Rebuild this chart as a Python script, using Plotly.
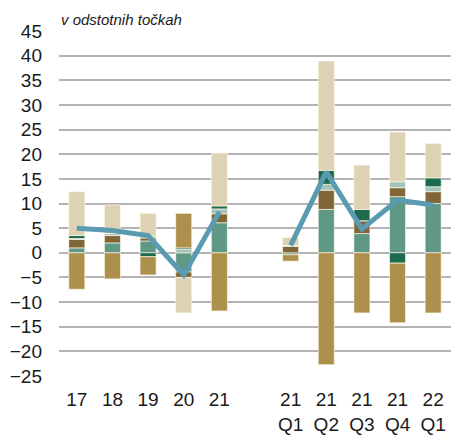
import plotly.graph_objects as go

# --- data (percentage points) ---
categories = ["17", "18", "19", "20", "21", " ",
              "21<br>Q1", "21<br>Q2", "21<br>Q3", "21<br>Q4", "22<br>Q1"]

teal = [1.0, 2.0, 2.4, -3.9, 6.1, None, -0.4, 8.8, 3.9, 11.4, 10.0]
brown = [1.7, 1.5, 0.6, -1.1, 1.8, None, 1.3, 3.9, 2.6, 1.8, 2.4]
light_teal = [0.2, 0.4, 0.4, 0.7, 1.0, None, 0.2, 1.2, 0.0, 1.2, 1.0]
dark_green = [0.6, 0.0, -0.8, 0.3, 0.6, None, 0.0, 2.8, 2.3, -2.1, 1.8]
tan = [-7.4, -5.3, -3.7, 7.0, -11.8, None, -1.3, -22.7, -12.2, -12.1, -12.2]
beige = [8.9, 5.8, 4.6, -7.2, 10.7, None, 1.6, 22.2, 9.0, 10.1, 7.0]
total = [5.0, 4.5, 3.5, -4.5, 8.3, None, 1.5, 16.4, 4.8, 10.7, 9.7]

y_ticks = list(range(-25, 50, 5))

FONT = "Liberation Sans, Arial, sans-serif"

series = [
    ("teal", teal, "#5F9985"),
    ("brown", brown, "#806636"),
    ("light teal", light_teal, "#A5C3B8"),
    ("dark green", dark_green, "#1D6B4F"),
    ("tan", tan, "#AE904D"),
    ("beige", beige, "#DDD2B3"),
]

fig = go.Figure()
for name, vals, col in series:
    fig.add_trace(
        go.Bar(
            x=categories,
            y=vals,
            name=name,
            marker=dict(color=col, line=dict(width=0.8, color="rgba(255,250,235,0.8)")),
            showlegend=False,
        )
    )

fig.add_trace(
    go.Scatter(
        x=categories,
        y=total,
        mode="lines",
        line=dict(color="#5A9BB2", width=5),
        connectgaps=False,
        showlegend=False,
    )
)

fig.update_layout(
    width=457,
    height=437,
    barmode="relative",
    bargap=0.55,
    plot_bgcolor="white",
    paper_bgcolor="white",
    margin=dict(l=59, r=6, t=31, b=61),
    font=dict(family=FONT, size=19, color="#1a1a1a"),
    xaxis=dict(
        type="category",
        automargin=False,
        showgrid=False,
        showline=False,
        ticks="",
        tickfont=dict(size=19),
        ticklabelstandoff=10,
        tickangle=0,
    ),
    yaxis=dict(
        range=[-25, 45],
        automargin=False,
        tickvals=y_ticks,
        showgrid=True,
        gridcolor="#B3B3B3",
        gridwidth=1.6,
        zeroline=True,
        zerolinecolor="#B3B3B3",
        zerolinewidth=1.6,
        showline=False,
        ticks="",
        ticklabelstandoff=16,
        tickfont=dict(size=19),
    ),
    annotations=[
        dict(
            text="<i>v odstotnih točkah</i>",
            x=0.0,
            y=1.0,
            xref="paper",
            yref="paper",
            xanchor="left",
            yanchor="bottom",
            yshift=1,
            showarrow=False,
            font=dict(family=FONT, size=15, color="#1a1a1a"),
        )
    ],
)

# the page's default body margin would push the figure off its 457x437 window
fig.write_html(
    "out.html",
    config={"displayModeBar": False},
    post_script="document.body.style.margin='0';document.body.style.overflow='hidden';",
)
